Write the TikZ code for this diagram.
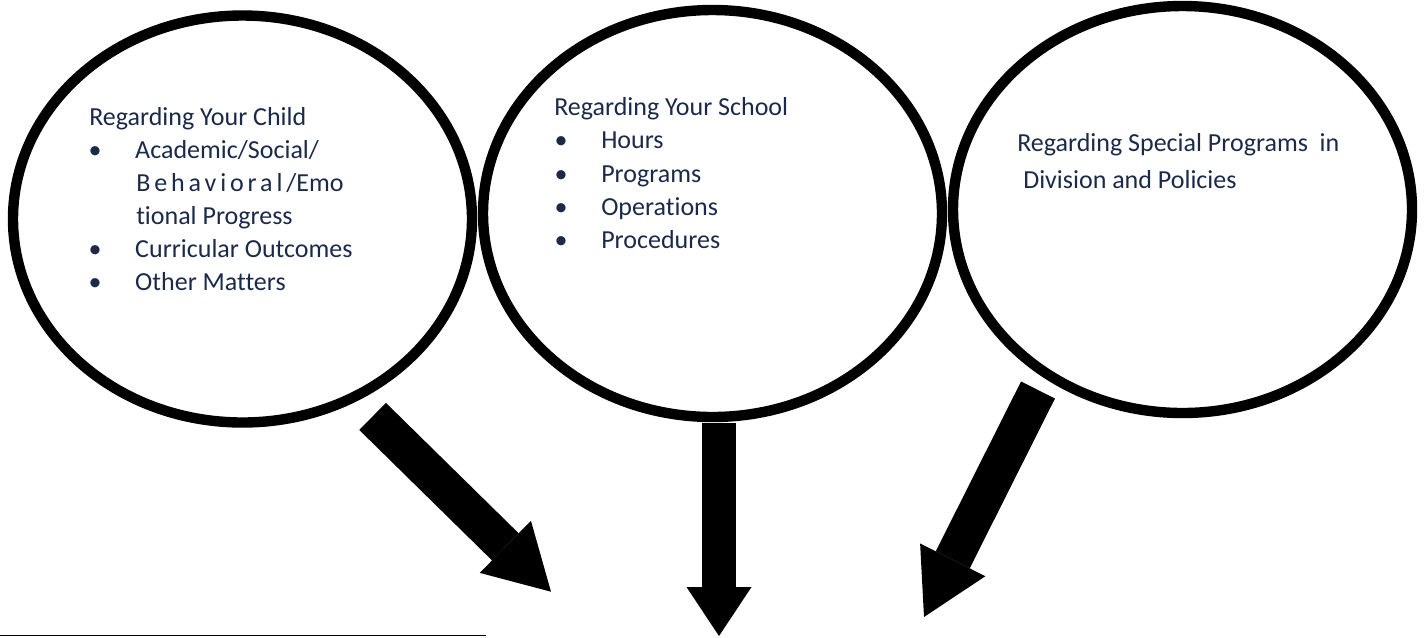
\documentclass[tikz,border=0pt]{standalone}
\usepackage{fontspec}
\setmainfont{Carlito}[RawFeature={-liga}]
\usepackage{xcolor}
\usepackage{tikz}
\usetikzlibrary{positioning,arrows.meta,shapes.geometric}
\definecolor{cInk}{HTML}{1B2A49}
\definecolor{cRing}{HTML}{000000}
\newcommand{\itembul}{\makebox[36pt][l]{\hspace*{1pt}\textbullet}}

\begin{document}
\begin{tikzpicture}[
  x=0.75pt, y=-0.75pt,
  font=\fontsize{19.5}{24.75}\selectfont,
  bubble/.style={ellipse, draw=cRing, line width=7.8pt, minimum width=344.25pt, minimum height=305.25pt, inner sep=0pt},
  txt/.style={text=cInk, anchor=base west, inner sep=0pt},
  block/.style={cRing, line width=28.5pt, line cap=butt, -{Triangle[length=48pt, width=54.75pt, line width=0pt]}},
]
\useasboundingbox (0,0) rectangle (1426,637);

% ---------- three bubbles ----------
\node[bubble] (child)   at (242.5,219)   {};
\node[bubble] (school)  at (712.5,213.5) {};
\node[bubble] (special) at (1182.5,209.5) {};

% ---------- bubble 1: your child ----------
\node[txt] (childHead) at (89,125) {Regarding Your Child};
\node[txt] (childA) at (87,158) {\itembul Academic/Social/};
\node[txt] (childB) at (136,191) {{\addfontfeature{LetterSpace=15}Behavioral/}Emo};
\node[txt] (childC) at (136,224) {tional Progress};
\node[txt] (childD) at (87,257) {\itembul Curricular Outcomes};
\node[txt] (childE) at (87,290) {\itembul Other Matters};

% ---------- bubble 2: your school ----------
\node[txt] (schoolHead) at (554,115) {Regarding Your School};
\node[txt] (schoolA) at (553,148) {\itembul Hours};
\node[txt] (schoolB) at (553,182) {\itembul Programs};
\node[txt] (schoolC) at (553,215) {\itembul Operations};
\node[txt] (schoolD) at (553,248) {\itembul Procedures};

% ---------- bubble 3: division ----------
\node[txt] (specHead) at (1017,151) {Regarding Special Programs\ \ in};
\node[txt] (specTail) at (1023,188) {Division and Policies};

% arrow ends
\coordinate (childTail)   at (372.6,416.4);
\coordinate (childTip)    at (551,591.7);
\coordinate (schoolTail)  at (719,423);
\coordinate (schoolTip)   at (719,636);
\coordinate (specialTail) at (1038,390);
\coordinate (specialTip)  at (924,617);

% block arrows pointing down
\draw[block] (childTail) -- (childTip);
\draw[block, line width=25.5pt, -{Triangle[length=36.75pt, width=48.75pt, line width=0pt]}] (schoolTail) -- (schoolTip);
\draw[block] (specialTail) -- (specialTip);

% footnote rule
\coordinate (ruleL) at (0,635.5);
\coordinate (ruleR) at (486,635.5);
\draw[line width=0.9pt] (ruleL) -- (ruleR);

\end{tikzpicture}
\end{document}
